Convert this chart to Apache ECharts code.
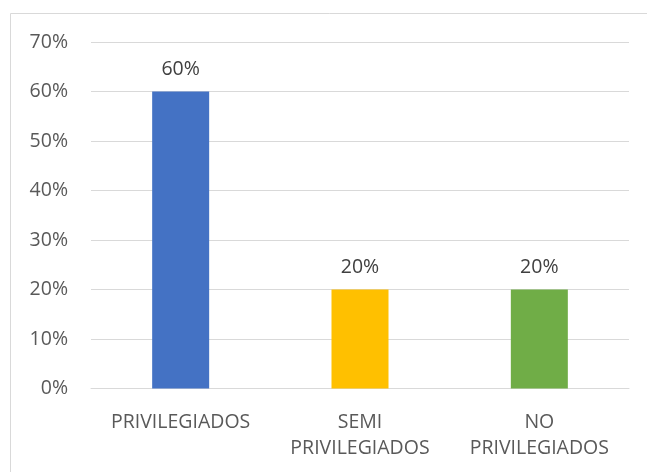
<!DOCTYPE html>
<html>
<head>
<meta charset="utf-8">
<script src="https://cdn.jsdelivr.net/npm/echarts@6/dist/echarts.min.js"></script>
<style>
html,body{margin:0;padding:0;background:#fff;}
#chart{width:647px;height:472px;}
</style>
</head>
<body>
<div id="chart"></div>
<script>
// Share of respondents per group
const categories = ['PRIVILEGIADOS', 'SEMI\nPRIVILEGIADOS', 'NO\nPRIVILEGIADOS'];
const values = [60, 20, 20];
const barColors = ['#4472C4', '#FFC000', '#70AD47'];

const font = '"Open Sans", "Liberation Sans", sans-serif';
const textColor = '#595959';

const chart = echarts.init(document.getElementById('chart'));
chart.setOption({
  animation: false,
  graphic: [{
    type: 'rect',
    shape: { x: 10.5, y: 13.5, width: 700, height: 500 },
    style: { fill: 'none', stroke: '#d9d9d9', lineWidth: 1 },
    silent: true
  }],
  grid: { left: 91, right: 18, top: 42, bottom: 83.5 },
  xAxis: {
    type: 'category',
    data: categories,
    axisLine: { lineStyle: { color: '#d9d9d9', width: 1 } },
    axisTick: { show: false },
    axisLabel: {
      color: textColor, fontFamily: font, fontSize: 19.5,
      lineHeight: 26, margin: 21, interval: 0
    }
  },
  yAxis: {
    type: 'value',
    min: 0, max: 70, interval: 10,
    axisLine: { show: false },
    axisTick: { show: false },
    splitLine: { lineStyle: { color: '#d9d9d9', width: 1 } },
    axisLabel: {
      color: textColor, fontFamily: font, fontSize: 19.5,
      margin: 23, formatter: v => v + '%'
    }
  },
  series: [{
    type: 'bar',
    barWidth: 57,
    data: values.map((v, i) => ({ value: v, itemStyle: { color: barColors[i] } })),
    label: {
      show: true, position: 'top', distance: 12,
      color: '#404040', fontFamily: font, fontSize: 19.5,
      formatter: p => p.value + '%'
    }
  }]
});
</script>
</body>
</html>
